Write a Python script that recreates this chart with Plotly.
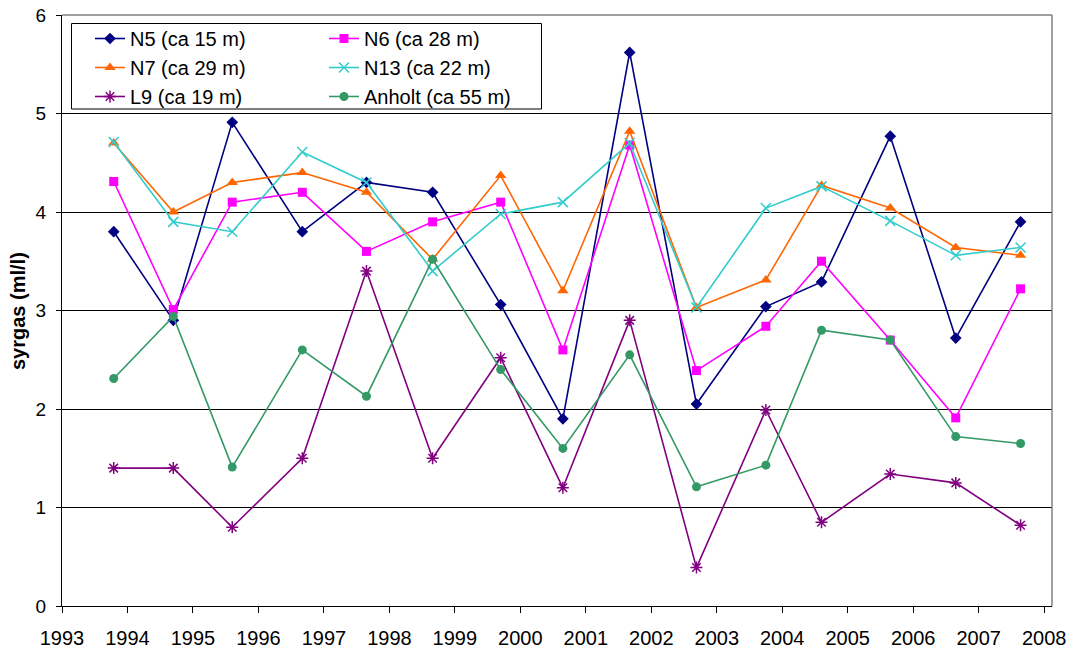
import plotly.graph_objects as go

# Sampling dates (decimal years) and dissolved oxygen (ml/l) per station
years = [1993.79, 1994.70, 1995.60, 1996.67, 1997.65, 1998.66, 1999.70, 2000.65,
         2001.67, 2002.69, 2003.75, 2004.60, 2005.65, 2006.65, 2007.64]

n5 = [3.80, 2.90, 4.91, 3.80, 4.30, 4.20, 3.06, 1.90, 5.62, 2.05, 3.04, 3.29, 4.77, 2.72, 3.90]
n6 = [4.31, 3.01, 4.10, 4.20, 3.60, 3.90, 4.10, 2.60, 4.68, 2.39, 2.84, 3.50, 2.70, 1.91, 3.22]
n7 = [4.70, 4.00, 4.30, 4.40, 4.20, 3.52, 4.37, 3.20, 4.82, 3.03, 3.31, 4.27, 4.04, 3.64, 3.56]
n13 = [4.71, 3.90, 3.80, 4.61, 4.30, 3.40, 3.98, 4.10, 4.70, 3.03, 4.04, 4.26, 3.91, 3.56, 3.64]
l9 = [1.40, 1.40, 0.80, 1.50, 3.40, 1.50, 2.52, 1.20, 2.90, 0.39, 1.99, 0.85, 1.34, 1.25, 0.82]
anholt = [2.31, 2.94, 1.41, 2.60, 2.13, 3.52, 2.40, 1.60, 2.55, 1.21, 1.43, 2.80, 2.70, 1.72, 1.65]

names = ["N5 (ca 15 m)", "N6 (ca 28 m)", "N7 (ca 29 m)",
         "N13 (ca 22 m)", "L9 (ca 19 m)", "Anholt (ca 55 m)"]

FONT = "Liberation Sans, Arial, sans-serif"

# (values, colour, symbol, size, outline width, legend)
styles = [
    (n5, "#000080", "diamond", 9, 0, "legend"),
    (n6, "#FF00FF", "square", 9, 0, "legend2"),
    (n7, "#FF6600", "triangle-up", 10, 0, "legend"),
    (n13, "#33CCCC", "x-thin-open", 10, 1.5, "legend2"),
    (l9, "#800080", "asterisk-open", 10, 1.5, "legend"),
    (anholt, "#339966", "circle", 9, 0, "legend2"),
]

fig = go.Figure()
for name, (vals, col, sym, size, lw, leg) in zip(names, styles):
    fig.add_trace(go.Scatter(
        x=years, y=vals, name=name, mode="lines+markers",
        line=dict(color=col, width=1.6),
        marker=dict(symbol=sym, size=size, color=col,
                    line=dict(color=col, width=lw)),
        legend=leg, legendgroup=name,
    ))

W, H = 1079, 651
ml, mr, mt, mb = 62, 27, 15, 45
pw, ph = W - ml - mr, H - mt - mb


def px_x(p):
    return (p - ml) / pw


def px_y(p):
    return (H - mb - p) / ph


legend_common = dict(
    font=dict(family=FONT, size=20, color="black"),
    bgcolor="rgba(0,0,0,0)", borderwidth=0,
    orientation="v", yanchor="top", xanchor="left",
    tracegroupgap=0, traceorder="normal",
)

fig.update_layout(
    width=W, height=H,
    margin=dict(l=ml, r=mr, t=mt, b=mb, autoexpand=False),
    paper_bgcolor="white", plot_bgcolor="white",
    font=dict(family=FONT, size=19, color="black"),
    showlegend=True,
    legend=dict(x=px_x(90), y=px_y(19), **legend_common),
    legend2=dict(x=px_x(324), y=px_y(19), **legend_common),
    xaxis=dict(
        range=[1993, 2008.12], tick0=1993, dtick=1, tickformat="d",
        showgrid=False, zeroline=False,
        showline=True, linecolor="black", linewidth=1,
        ticks="outside", ticklen=6, tickcolor="black",
        ticklabelstandoff=8,
        tickfont=dict(family=FONT, size=20, color="black"),
    ),
    yaxis=dict(
        range=[0, 6], tick0=0, dtick=1,
        showgrid=True, gridcolor="#000000", gridwidth=1,
        zeroline=False,
        showline=True, linecolor="black", linewidth=1,
        ticks="outside", ticklen=5, tickcolor="black",
        ticklabelstandoff=6,
        tickfont=dict(family=FONT, size=19, color="black"),
    ),
    annotations=[dict(
        text="<b>syrgas (ml/l)</b>", textangle=-90,
        xref="paper", yref="paper", x=px_x(18), y=px_y(311),
        xanchor="center", yanchor="middle", showarrow=False,
        font=dict(family=FONT, size=20, color="black"),
    )],
    shapes=[
        # gray frame on top and right of the plot area
        dict(type="line", xref="paper", yref="paper", x0=0, x1=1, y0=1, y1=1,
             line=dict(color="#808080", width=1.5)),
        dict(type="line", xref="paper", yref="paper", x0=1, x1=1, y0=0, y1=1,
             line=dict(color="#808080", width=1.5)),
        # legend box
        dict(type="rect", xref="paper", yref="paper", layer="above",
             x0=px_x(71.5), x1=px_x(541.5), y0=px_y(109), y1=px_y(23.5),
             fillcolor="white", line=dict(color="black", width=1)),
    ],
)

fig.write_html("out.html")
